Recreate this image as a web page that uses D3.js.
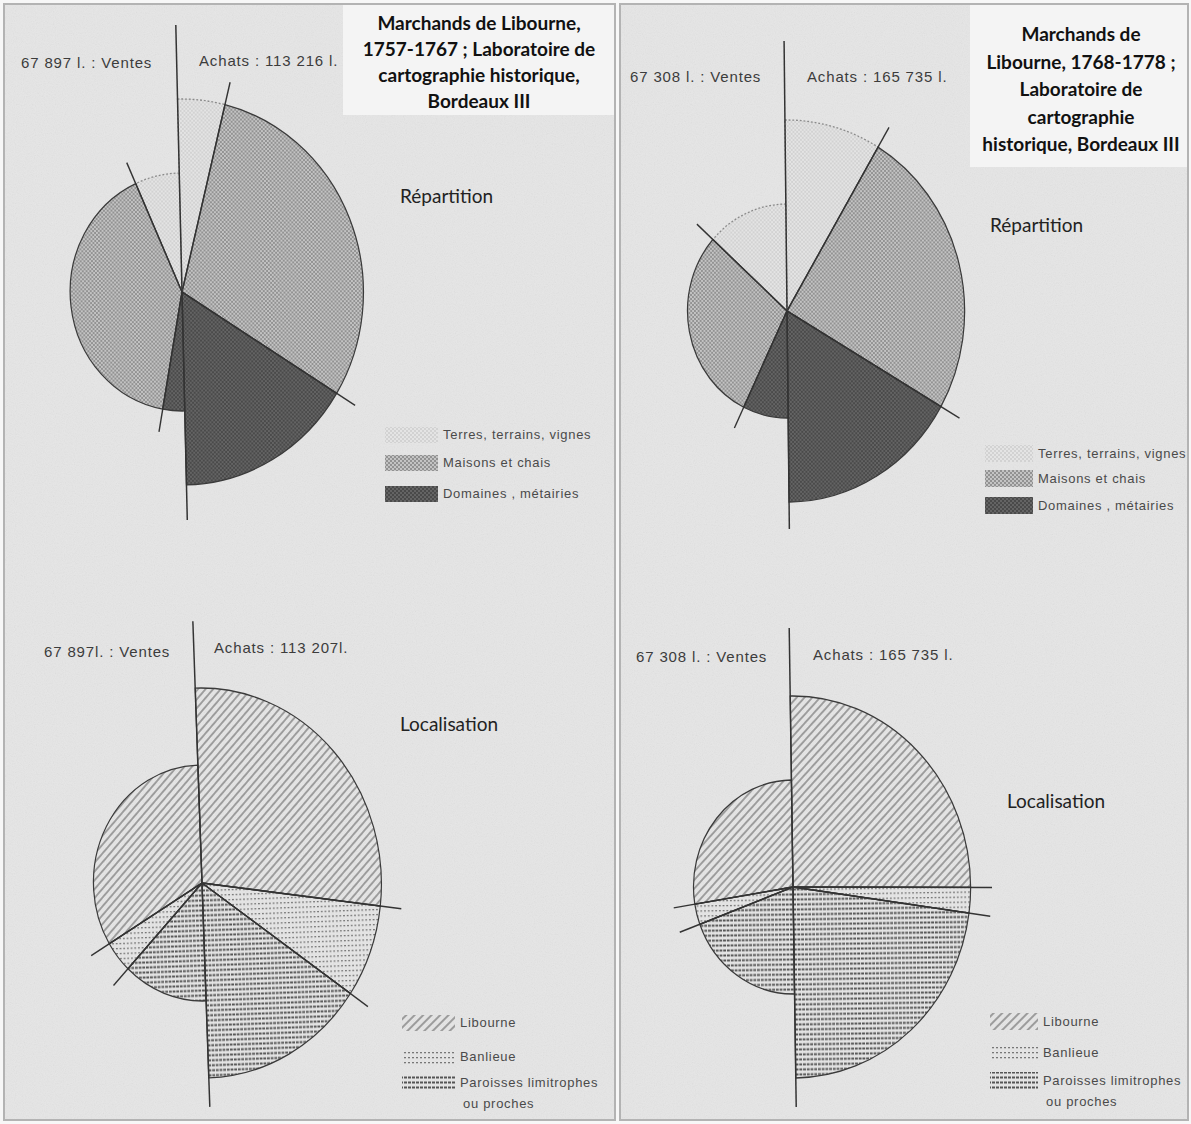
<!DOCTYPE html>
<html lang="fr">
<head>
<meta charset="UTF-8">
<title>Marchands de Libourne</title>
<script src="https://cdn.jsdelivr.net/npm/d3@7/dist/d3.min.js"></script>
<style>
  body { margin: 0; background: #f7f7f7; }
  .lab { font-family: "Liberation Sans", Arial, sans-serif; font-size: 15px; letter-spacing: 0.85px; fill: #3c3c3c; }
  .leg { font-family: "Liberation Sans", Arial, sans-serif; font-size: 13px; letter-spacing: 0.7px; fill: #4a4a4a; }
  .title { font-family: Lato, "Open Sans", sans-serif; font-weight: bold; font-size: 19px; fill: #111; }
  .sub { font-family: Lato, "Open Sans", sans-serif; font-size: 19px; fill: #222; }
</style>
</head>
<body>
<script>
// categories
const repCategories = ["Terres, terrains, vignes", "Maisons  et chais", "Domaines , métairies"];
const locCategories = ["Libourne", "Banlieue", "Paroisses limitrophes"];

// shares in % of each half
const rep1757Ventes = [12.8, 80.9, 6.3];
const rep1757Achats = [8.4, 59.9, 31.7];
const rep1768Ventes = [26.4, 58.9, 14.7];
const rep1768Achats = [17.5, 49.5, 33.0];
const loc1757Ventes = [66.2, 8.7, 25.1];
const loc1757Achats = [54.8, 15.4, 29.8];
const loc1768Ventes = [54.7, 6.2, 39.1];
const loc1768Achats = [50.5, 4.3, 45.2];

// totals labels
const ventesLabels = ["67 897 l. : Ventes", "67 308 l. : Ventes", "67 897l. : Ventes", "67 308 l. : Ventes"];
const achatsLabels = ["Achats : 113 216 l.", "Achats : 165 735 l.", "Achats : 113 207l.", "Achats : 165 735 l."];

const titleLeft = ["Marchands de Libourne,", "1757-1767 ; Laboratoire de", "cartographie historique,", "Bordeaux III"];
const titleRight = ["Marchands de", "Libourne, 1768-1778 ;", "Laboratoire de", "cartographie", "historique, Bordeaux III"];

const W = 1191, H = 1124;
const svg = d3.select("body").append("svg").attr("width", W).attr("height", H);
const defs = svg.append("defs");

// paper grain
const f = defs.append("filter").attr("id", "grain").attr("x", 0).attr("y", 0).attr("width", 1).attr("height", 1);
f.append("feTurbulence").attr("type", "fractalNoise").attr("baseFrequency", 0.9).attr("numOctaves", 2).attr("seed", 4);
f.append("feColorMatrix").attr("type", "saturate").attr("values", 0);

// halftone patterns for Répartition
function dots(id, bg, fg, pts, r) {
  const p = defs.append("pattern").attr("id", id).attr("patternUnits", "userSpaceOnUse")
    .attr("width", 4).attr("height", 4);
  p.append("rect").attr("width", 4).attr("height", 4).attr("fill", bg);
  pts.forEach(d => p.append("circle").attr("cx", d[0]).attr("cy", d[1]).attr("r", r).attr("fill", fg));
}
dots("terres", "#e4e4e4", "#b4b4b4", [[1, 1], [3, 3]], 0.7);
dots("maisons", "#929292", "#dcdcdc", [[1, 1], [3, 3]], 0.9);
dots("domaines", "#4a4a4a", "#858585", [[1, 1], [3, 3]], 0.8);

// line patterns for Localisation
let p = defs.append("pattern").attr("id", "libourne").attr("patternUnits", "userSpaceOnUse")
  .attr("width", 8).attr("height", 6).attr("patternTransform", "rotate(-45)");
p.append("line").attr("x1", 0).attr("x2", 8).attr("y1", 3).attr("y2", 3).attr("stroke", "#626262").attr("stroke-width", 1.1);
p = defs.append("pattern").attr("id", "banlieue").attr("patternUnits", "userSpaceOnUse").attr("width", 4).attr("height", 5);
p.append("rect").attr("x", 0).attr("y", 2).attr("width", 2).attr("height", 1.3).attr("fill", "#777");
p = defs.append("pattern").attr("id", "paroisses").attr("patternUnits", "userSpaceOnUse").attr("width", 4).attr("height", 5);
p.append("rect").attr("x", 0).attr("y", 1.5).attr("width", 3).attr("height", 2).attr("fill", "#555");

const repFills = ["url(#terres)", "url(#maisons)", "url(#domaines)"];
const locFills = ["url(#libourne)", "url(#banlieue)", "url(#paroisses)"];

// panels
const panels = [{x: 4, w: 611}, {x: 620, w: 568}];
panels.forEach(d => {
  svg.append("rect").attr("x", d.x).attr("y", 4).attr("width", d.w).attr("height", 1116).attr("fill", "#e6e6e6");
  svg.append("rect").attr("x", d.x).attr("y", 4).attr("width", d.w).attr("height", 1116)
    .attr("filter", "url(#grain)").attr("opacity", 0.13);
  svg.append("rect").attr("x", d.x).attr("y", 4).attr("width", d.w).attr("height", 1116)
    .attr("fill", "none").attr("stroke", "#b3b3b3").attr("stroke-width", 2);
});

// title boxes
svg.append("rect").attr("x", 343).attr("y", 5).attr("width", 271).attr("height", 110).attr("fill", "#f4f4f4");
svg.append("rect").attr("x", 970).attr("y", 5).attr("width", 217).attr("height", 162).attr("fill", "#f4f4f4");
svg.append("g").selectAll("text").data(titleLeft).join("text").attr("class", "title")
  .attr("x", 479).attr("y", (d, i) => 30 + i * 26).attr("text-anchor", "middle").text(d => d);
svg.append("g").selectAll("text").data(titleRight).join("text").attr("class", "title")
  .attr("x", 1081).attr("y", (d, i) => 41 + i * 27.6).attr("text-anchor", "middle").text(d => d);

// chart layouts
const charts = [
  {cx: 182, cy: 292, rA: 193, rV: 119, tilt: 1.33, sx: 0.94, top: 267, bottom: 228,
   ventes: rep1757Ventes, achats: rep1757Achats, fills: repFills, kind: "rep",
   vl: [21, 68], al: [199, 66], sub: ["Répartition", 400, 203]},
  {cx: 787, cy: 311, rA: 191, rV: 107, tilt: 0.62, sx: 0.93, top: 270, bottom: 218,
   ventes: rep1768Ventes, achats: rep1768Achats, fills: repFills, kind: "rep",
   vl: [630, 82], al: [807, 82], sub: ["Répartition", 990, 232]},
  {cx: 202, cy: 883, rA: 195, rV: 118, tilt: 2.0, sx: 0.92, top: 262, bottom: 224,
   ventes: loc1757Ventes, achats: loc1757Achats, fills: locFills, kind: "loc",
   vl: [44, 657], al: [214, 653], sub: ["Localisation", 400, 731]},
  {cx: 793, cy: 887, rA: 191, rV: 107, tilt: 0.84, sx: 0.93, top: 259, bottom: 220,
   ventes: loc1768Ventes, achats: loc1768Achats, fills: locFills, kind: "loc",
   vl: [636, 662], al: [813, 660], sub: ["Localisation", 1007, 808]}
];

const pieA = d3.pie().sort(null).startAngle(0).endAngle(Math.PI);
const pieV = d3.pie().sort(null).startAngle(0).endAngle(-Math.PI);

charts.forEach((c, ci) => {
  const g = svg.append("g")
    .attr("transform", `translate(${c.cx},${c.cy}) rotate(${-c.tilt}) scale(${c.sx},1)`);
  [[pieA(c.achats), c.rA], [pieV(c.ventes), c.rV]].forEach(([arcs, r]) => {
    const arc = d3.arc().innerRadius(0).outerRadius(r);
    g.append("g").selectAll("path").data(arcs).join("path")
      .attr("d", arc)
      .attr("fill", (d, i) => c.fills[i])
      .attr("stroke", (d, i) => c.kind === "rep" && i === 0 ? "#8a8a8a" : "#3a3a3a")
      .attr("stroke-dasharray", (d, i) => c.kind === "rep" && i === 0 ? "2,2" : null)
      .attr("stroke-width", 1.3);
    // radial dividers reaching past the rim
    g.append("g").selectAll("line").data(arcs.slice(0, -1)).join("line")
      .attr("x1", 0).attr("y1", 0)
      .attr("x2", d => (r + 23) * Math.sin(d.endAngle))
      .attr("y2", d => -(r + 23) * Math.cos(d.endAngle))
      .attr("stroke", "#333").attr("stroke-width", 1.5);
  });
  g.append("line").attr("x1", 0).attr("x2", 0).attr("y1", -c.top).attr("y2", c.bottom)
    .attr("stroke", "#333").attr("stroke-width", 1.6);

  svg.append("text").attr("class", "lab").attr("x", c.vl[0]).attr("y", c.vl[1]).text(ventesLabels[ci]);
  svg.append("text").attr("class", "lab").attr("x", c.al[0]).attr("y", c.al[1]).text(achatsLabels[ci]);
  svg.append("text").attr("class", "sub").attr("x", c.sub[1]).attr("y", c.sub[2]).text(c.sub[0]);
});

// legends
const legends = [
  {x: 385, y: [427, 455, 486], h: 16, w: 53, cats: repCategories, fills: repFills},
  {x: 985, y: [445, 470, 497], h: 17, w: 48, cats: repCategories, fills: repFills},
  {x: 402, y: [1015, 1049, 1075], h: 16, w: 53, cats: locCategories, fills: locFills},
  {x: 990, y: [1013, 1044, 1072], h: 17, w: 48, cats: locCategories, fills: locFills}
];
legends.forEach(L => {
  const lg = svg.append("g");
  lg.selectAll("rect").data(L.cats).join("rect")
    .attr("x", L.x).attr("y", (d, i) => L.y[i]).attr("width", L.w).attr("height", L.h)
    .attr("fill", (d, i) => L.fills[i]);
  lg.selectAll("text").data(L.cats).join("text").attr("class", "leg")
    .attr("x", L.x + L.w + 5).attr("y", (d, i) => L.y[i] + L.h / 2 + 4).text(d => d);
  if (L.cats === locCategories) {
    lg.append("text").attr("class", "leg").attr("x", L.x + L.w + 8).attr("y", L.y[2] + L.h / 2 + 25).text("ou proches");
  }
});
</script>
</body>
</html>
